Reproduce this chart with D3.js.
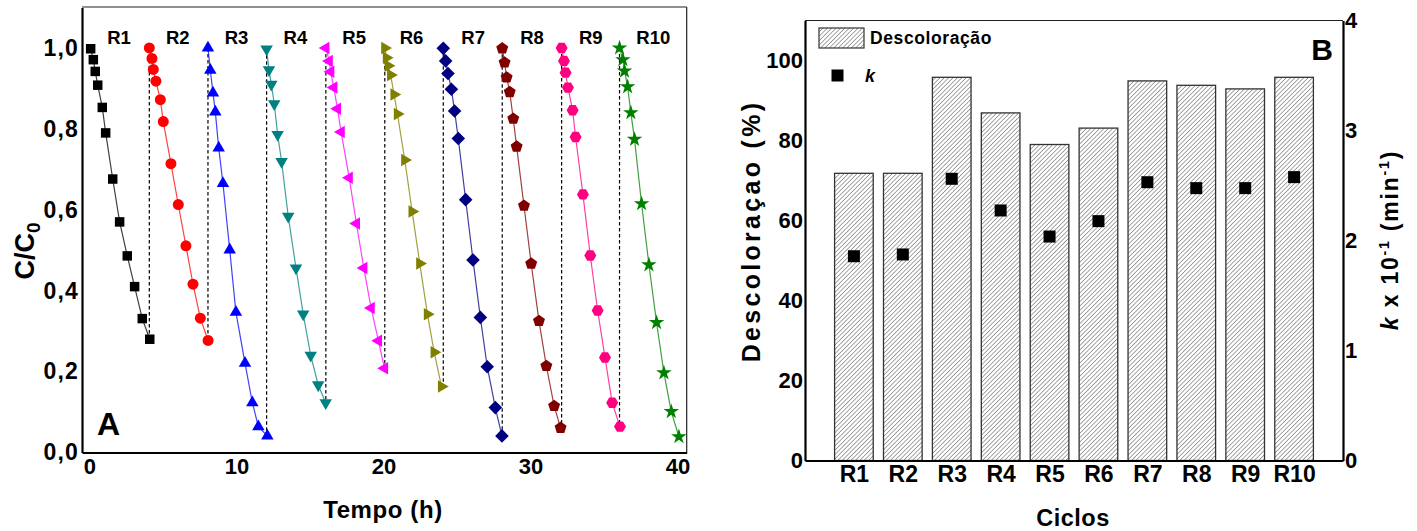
<!DOCTYPE html>
<html><head><meta charset="utf-8">
<script src="https://cdn.jsdelivr.net/npm/d3@7"></script>
<style>
body{margin:0;background:#fff}
svg{display:block}
text{font-family:"Liberation Sans",Arial,sans-serif;font-weight:bold;fill:#000}
</style>
</head><body>
<svg id="c" width="1417" height="531"></svg>
<script>
// ---------- Panel A data : C/C0 versus time (h) ----------
const cycles = ["R1","R2","R3","R4","R5","R6","R7","R8","R9","R10"];
const t_R1 = [0.08,0.26,0.39,0.56,0.87,1.10,1.58,2.05,2.57,3.07,3.59,4.10];
const c_R1 = [0.998,0.971,0.942,0.908,0.853,0.790,0.676,0.570,0.486,0.410,0.331,0.280];
const t_R2 = [4.07,4.25,4.34,4.52,4.82,5.02,5.54,6.04,6.56,7.04,7.54,8.07];
const c_R2 = [1.000,0.974,0.947,0.918,0.872,0.818,0.714,0.613,0.511,0.416,0.332,0.277];
const t_R3 = [8.06,8.22,8.40,8.56,8.79,9.08,9.54,9.96,10.58,11.08,11.49,12.10];
const c_R3 = [1.000,0.945,0.889,0.842,0.753,0.665,0.501,0.347,0.221,0.123,0.064,0.041];
const t_R4 = [12.05,12.21,12.37,12.57,12.80,13.07,13.52,14.05,14.54,15.05,15.56,16.07];
const c_R4 = [0.997,0.946,0.910,0.862,0.786,0.719,0.584,0.456,0.342,0.240,0.167,0.123];
const t_R5 = [16.08,16.31,16.41,16.62,16.87,17.12,17.67,18.16,18.66,19.16,19.66,20.07];
const c_R5 = [1.000,0.968,0.941,0.902,0.850,0.792,0.679,0.566,0.456,0.357,0.276,0.208];
const t_R6 = [20.09,20.20,20.32,20.49,20.72,20.95,21.45,21.95,22.47,22.99,23.45,23.95];
const c_R6 = [1.000,0.976,0.956,0.933,0.885,0.837,0.723,0.596,0.467,0.342,0.248,0.163];
const t_R7 = [24.07,24.23,24.39,24.62,24.84,25.09,25.59,26.09,26.59,27.06,27.61,28.06];
const c_R7 = [0.999,0.968,0.937,0.898,0.844,0.776,0.625,0.476,0.334,0.212,0.111,0.041];
const t_R8 = [28.08,28.24,28.38,28.59,28.83,29.06,29.56,30.05,30.58,31.08,31.61,32.05];
const c_R8 = [0.999,0.964,0.927,0.891,0.825,0.756,0.610,0.467,0.325,0.214,0.115,0.061];
const t_R9 = [32.12,32.28,32.39,32.55,32.87,33.07,33.57,34.07,34.57,35.07,35.56,36.09];
const c_R9 = [1.000,0.968,0.939,0.902,0.846,0.780,0.638,0.487,0.351,0.235,0.123,0.064];
const t_R10 = [36.06,36.29,36.40,36.61,36.83,37.08,37.56,38.06,38.58,39.08,39.58,40.10];
const c_R10 = [1.000,0.971,0.943,0.904,0.840,0.774,0.615,0.464,0.321,0.197,0.101,0.039];
const cycleColors = ["#000000","#ff0000","#0000ff","#008080","#ff00ff","#808000","#000080","#800000","#ff0080","#008000"];
const cycleMarkers = ["square","circle","triUp","triDown","triLeft","triRight","diamond","pentagon","hexagon","star"];
const timeTicks = [0,10,20,30,40];
const concTicks = [0,0.2,0.4,0.6,0.8,1.0];
const labelTime = [1.2,5.2,9.2,13.2,17.2,21.1,25.3,29.3,33.3,37.2];

// ---------- Panel B data ----------
const ciclos = ["R1","R2","R3","R4","R5","R6","R7","R8","R9","R10"];
const descoloracao = [71.8,71.8,95.8,86.9,79.0,83.1,94.9,93.8,92.9,95.8];
const kValues = [1.857,1.873,2.561,2.273,2.036,2.176,2.530,2.476,2.476,2.576];
const pctTicks = [0,20,40,60,80,100];
const kTicks = [0,1,2,3,4];

const svg = d3.select("#c");
const seriesT = [t_R1,t_R2,t_R3,t_R4,t_R5,t_R6,t_R7,t_R8,t_R9,t_R10];
const seriesC = [c_R1,c_R2,c_R3,c_R4,c_R5,c_R6,c_R7,c_R8,c_R9,c_R10];
const series = cycles.map((n,i)=>({name:n,color:cycleColors[i],marker:cycleMarkers[i],
  pts:seriesT[i].map((t,j)=>({t, c:seriesC[i][j]}))}));

// ===== Panel A =====
const xA = d3.scaleLinear().domain([-0.51,40.63]).range([82,686.7]);
const yA = d3.scaleLinear().domain([0,1.1]).range([452.5,7.5]);

svg.append("line").attr("x1",82).attr("x2",686.7).attr("y1",7).attr("y2",7).attr("stroke","#222").attr("stroke-width",1.2);
svg.append("line").attr("x1",686.7).attr("x2",686.7).attr("y1",7).attr("y2",452.5).attr("stroke","#222").attr("stroke-width",1.2);

// dashed connectors between cycles
for(let i=1;i<series.length;i++){
  const prev = series[i-1].pts, cur = series[i].pts;
  svg.append("line")
    .attr("x1",xA(cur[0].t)).attr("x2",xA(cur[0].t))
    .attr("y1",yA(cur[0].c)).attr("y2",yA(prev[prev.length-1].c))
    .attr("stroke","#000").attr("stroke-width",1.2).attr("stroke-dasharray","3.5,2.5");
}

const line = d3.line().x(d=>xA(d.t)).y(d=>yA(d.c));
function poly(n, r, rot){
  const p=[];
  for(let k=0;k<n;k++){const a=rot+2*Math.PI*k/n;p.push([r*Math.sin(a),-r*Math.cos(a)]);}
  return "M"+p.map(q=>q[0].toFixed(2)+","+q[1].toFixed(2)).join("L")+"Z";
}
function markerPath(m){
  switch(m){
    case "square": return d3.symbol(d3.symbolSquare,90)();
    case "circle": return d3.symbol(d3.symbolCircle,95)();
    case "triUp": return poly(3,7.2,0);
    case "triDown": return poly(3,7.2,Math.PI);
    case "triLeft": return poly(3,7.2,-Math.PI/2);
    case "triRight": return poly(3,7.2,Math.PI/2);
    case "diamond": return poly(4,6.8,0);
    case "pentagon": return poly(5,6.3,0);
    case "hexagon": return poly(6,6.0,Math.PI/6);
    case "star": return d3.symbol(d3.symbolStar,75)();
  }
}
series.forEach(s=>{
  svg.append("path").datum(s.pts).attr("d",line).attr("fill","none")
    .attr("stroke",s.color).attr("stroke-width",1.2).attr("stroke-opacity",0.75);
  svg.append("g").selectAll("path").data(s.pts).join("path")
    .attr("d",markerPath(s.marker))
    .attr("transform",d=>`translate(${xA(d.t)},${yA(d.c)})`)
    .attr("fill",s.color);
});

// cycle labels
svg.append("g").selectAll("text").data(cycles).join("text")
  .attr("x",(d,i)=>xA(labelTime[i])).attr("y",43.5)
  .attr("font-size",18.5).text(d=>d);

// axes A
const axLA = svg.append("g").attr("transform","translate(82,0)")
  .call(d3.axisLeft(yA).tickValues(concTicks).tickSize(0).tickPadding(3).tickFormat(d=>d3.format(".1f")(d).replace(".",",")));
const axBA = svg.append("g").attr("transform","translate(0,452.5)")
  .call(d3.axisBottom(xA).tickValues(timeTicks).tickSize(0).tickPadding(6).tickFormat(d3.format("d")));
[axLA,axBA].forEach(a=>{
  a.select(".domain").attr("stroke","#000").attr("stroke-width",2.2);
  a.selectAll("text").attr("font-size",23).attr("font-family",null).attr("fill","#000");
});
axLA.selectAll("text").attr("letter-spacing",1.2);
axBA.selectAll("text").attr("font-size",22);

svg.append("text").attr("x",97).attr("y",435).attr("font-size",32).text("A");
svg.append("text").attr("x",383).attr("y",518).attr("text-anchor","middle").attr("font-size",24).attr("letter-spacing",0.6).text("Tempo (h)");
const tc = svg.append("text").attr("transform","translate(34,251) rotate(-90)").attr("text-anchor","middle").attr("font-size",27);
tc.append("tspan").text("C/C");
tc.append("tspan").attr("font-size",19).attr("dy",6).text("0");

// ===== Panel B =====
const xB = d3.scaleLinear().domain([0,11]).range([805,1343]);
const yP = d3.scaleLinear().domain([0,110]).range([460.5,20.5]);
const yK = d3.scaleLinear().domain([0,4]).range([460.5,20.5]);

const defs = svg.append("defs");
const pat = defs.append("pattern").attr("id","hatch").attr("patternUnits","userSpaceOnUse")
  .attr("width",3.1).attr("height",3.1).attr("patternTransform","rotate(45)");
pat.append("rect").attr("width",3.1).attr("height",3.1).attr("fill","#fff");
pat.append("line").attr("x1",0).attr("y1",0).attr("x2",0).attr("y2",3.1).attr("stroke","#222").attr("stroke-width",0.8);

svg.append("line").attr("x1",805).attr("x2",1343).attr("y1",20.5).attr("y2",20.5).attr("stroke","#222").attr("stroke-width",1.2);

const bw = 0.79;
svg.append("g").selectAll("rect").data(ciclos).join("rect")
  .attr("x",(d,i)=>xB(i+1-bw/2)).attr("width",xB(bw)-xB(0))
  .attr("y",(d,i)=>yP(descoloracao[i])).attr("height",(d,i)=>yP(0)-yP(descoloracao[i]))
  .attr("fill","url(#hatch)").attr("stroke","#333").attr("stroke-width",1.3);

svg.append("g").selectAll("rect").data(kValues).join("rect")
  .attr("x",(d,i)=>xB(i+1)-6).attr("y",d=>yK(d)-6).attr("width",12).attr("height",12).attr("fill","#000");

const axLB = svg.append("g").attr("transform","translate(805,0)")
  .call(d3.axisLeft(yP).tickValues(pctTicks).tickSize(0).tickPadding(2).tickFormat(d3.format("d")));
const axRB = svg.append("g").attr("transform","translate(1343,0)")
  .call(d3.axisRight(yK).tickValues(kTicks).tickSize(0).tickPadding(2).tickFormat(d3.format("d")));
const axBB = svg.append("g").attr("transform","translate(0,460.5)")
  .call(d3.axisBottom(xB).tickValues(d3.range(1,11)).tickSize(0).tickPadding(5).tickFormat(d=>ciclos[d-1]));
[axLB,axRB,axBB].forEach(a=>{
  a.select(".domain").attr("stroke","#000").attr("stroke-width",2.2);
  a.selectAll("text").attr("font-size",22).attr("font-family",null).attr("fill","#000");
});
axBB.selectAll("text").attr("font-size",23);

// legend
svg.append("rect").attr("x",819).attr("y",28).attr("width",45).attr("height",20)
  .attr("fill","url(#hatch)").attr("stroke","#333").attr("stroke-width",1.2);
svg.append("text").attr("x",870).attr("y",44).attr("font-size",17.5).attr("letter-spacing",0.6).text("Descoloração");
svg.append("rect").attr("x",831.5).attr("y",69.5).attr("width",12).attr("height",12).attr("fill","#000");
svg.append("text").attr("x",865).attr("y",82).attr("font-size",18).attr("font-style","italic").text("k");

svg.append("text").attr("x",1333).attr("y",60).attr("text-anchor","end").attr("font-size",30).text("B");
svg.append("text").attr("x",1073).attr("y",526).attr("text-anchor","middle").attr("font-size",23.5).attr("letter-spacing",0.5).text("Ciclos");
svg.append("text").attr("transform","translate(760,231) rotate(-90)").attr("text-anchor","middle")
  .attr("font-size",25).attr("letter-spacing",3.3).text("Descoloraçao (%)");
const tk = svg.append("text").attr("transform","translate(1398,240) rotate(-90)").attr("text-anchor","middle")
  .attr("font-size",23).attr("letter-spacing",1.8);
tk.append("tspan").attr("font-style","italic").text("k");
tk.append("tspan").text(" x 10");
tk.append("tspan").attr("font-size",14).attr("dy",-9).text("-1");
tk.append("tspan").attr("dy",9).text(" (min");
tk.append("tspan").attr("font-size",14).attr("dy",-9).text("-1");
tk.append("tspan").attr("dy",9).text(")");
</script>
</body></html>
